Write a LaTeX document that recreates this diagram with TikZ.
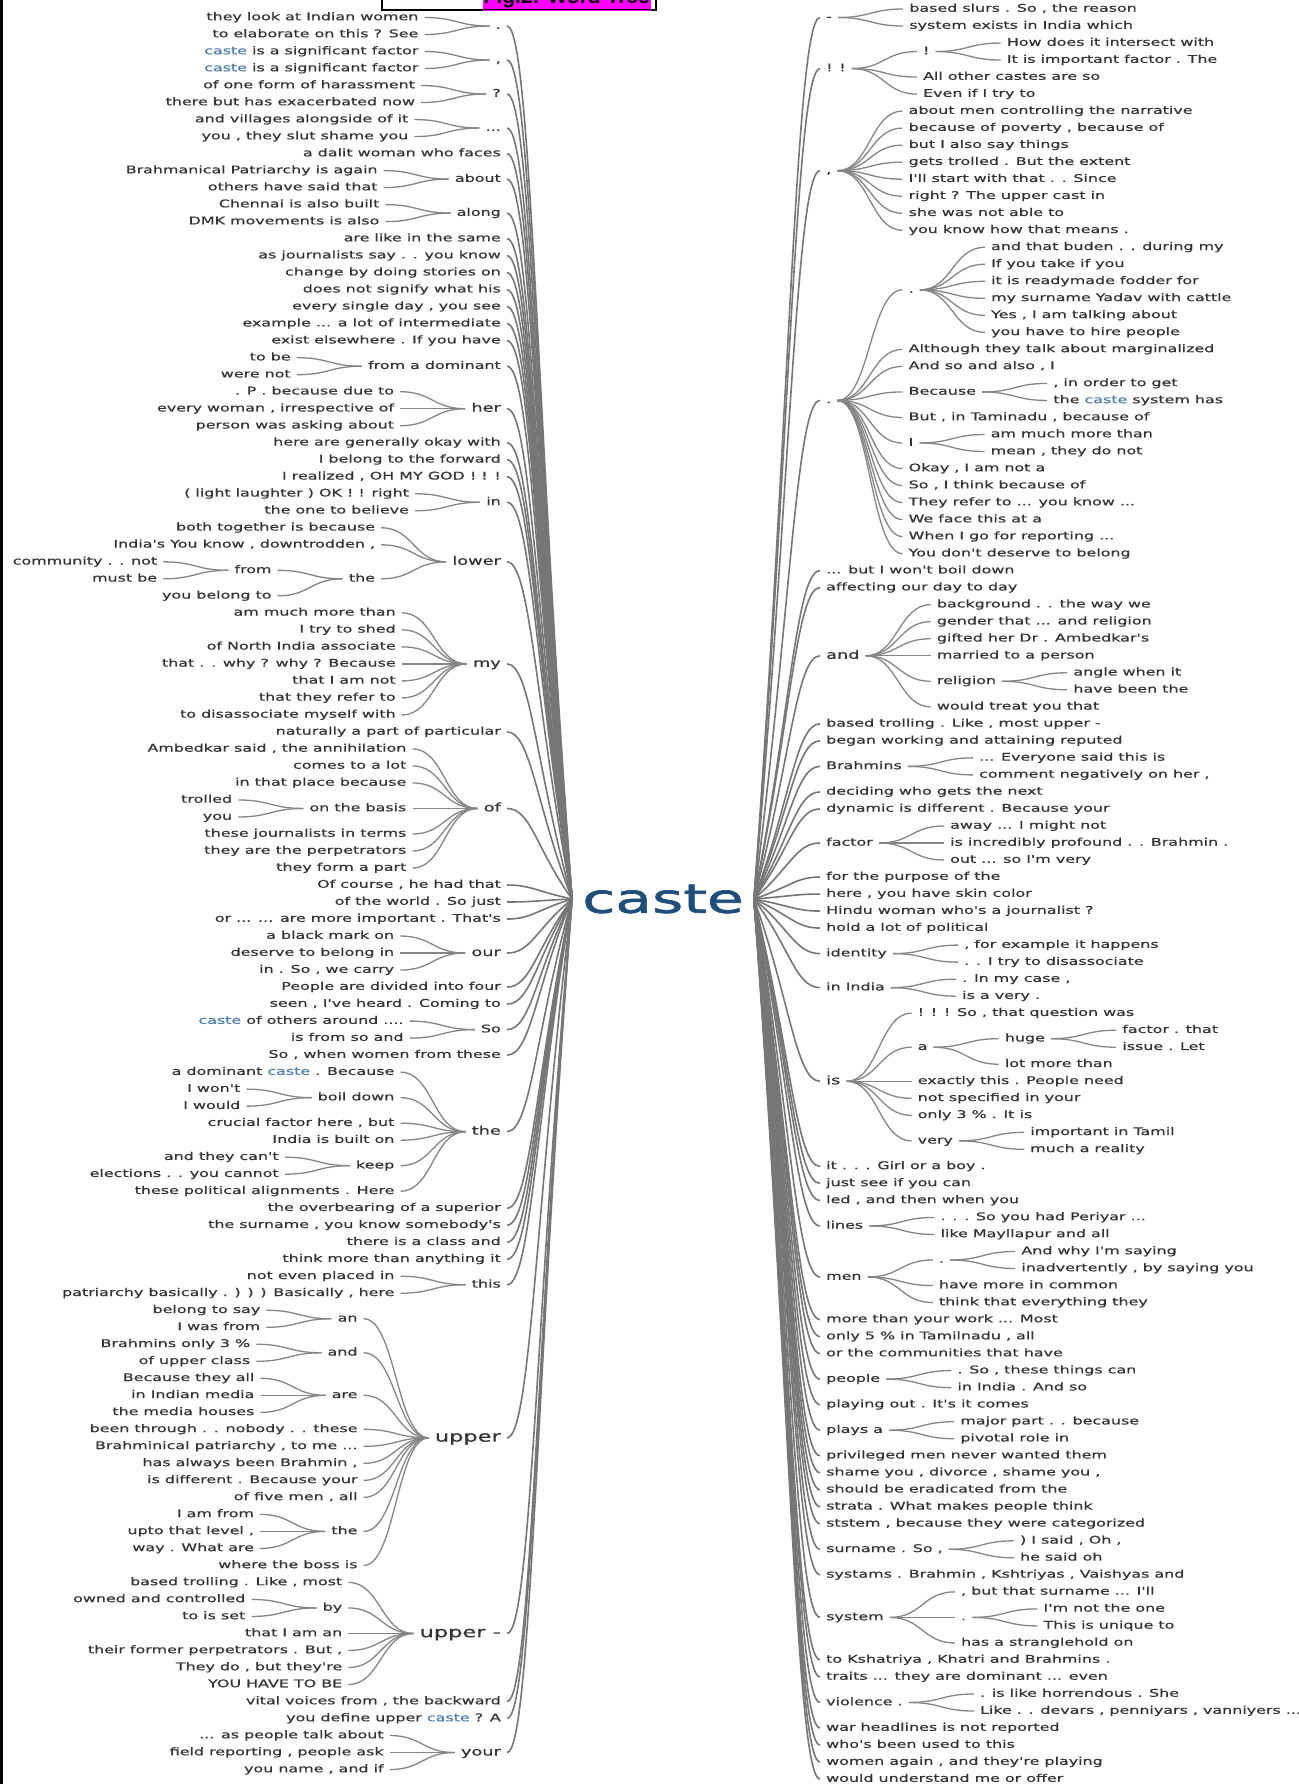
\documentclass[tikz,border=0pt]{standalone}
\usepackage{fontspec}
\newfontfamily\wt[FakeStretch=1.5,FakeBold=0.6]{DejaVu Sans}
\newfontfamily\wtc[FakeStretch=1.5,FakeBold=1.6]{DejaVu Sans}
\newfontfamily\hdf{Liberation Sans}
\usetikzlibrary{calc}
\definecolor{txt}{HTML}{333333}
\definecolor{lnk}{HTML}{858585}
\definecolor{bnd}{HTML}{767676}
\definecolor{cst}{HTML}{1F4E7A}
\definecolor{cstw}{HTML}{4E7DB0}
\definecolor{mag}{HTML}{FF00FF}
\newcommand\LY[1]{(-(17.5+(#1-1)*17.01))}
\newcommand\RY[1]{(-(9+(#1-1)*17.02))}
\newcommand\cs{\textcolor{cstw}{caste}}
% level-1 item on the left, joined to the root
\newcommand\LT[4][lf]{\node[#1,anchor=east] (#2) at (507,{\LY{#3}}) {#4};
 \draw[bun] (#2.east) .. controls +(24,0) and (536,{-899+0.55*(\LY{#3}+899)}) .. (caste.west);}
% level-1 item on the right, joined to the root
\newcommand\RT[4][lf]{\node[#1,anchor=west] (#2) at (820,{\RY{#3}}) {#4};
 \draw[bun] (#2.west) .. controls +(-24,0) and (790,{-899+0.55*(\RY{#3}+899)}) .. (caste.east);}
% deeper item on the left
\newcommand\LS[5][lf]{\coordinate (tmp) at (0,{\LY{#4}});
 \node[#1,anchor=east,xshift=-65pt] (#2) at (#3.west |- tmp) {#5};
 \draw[br] (#3.west) .. controls +(-32,0) and +(32,0) .. (#2.east);}
% deeper item on the right
\newcommand\RS[5][lf]{\coordinate (tmp) at (0,{\RY{#4}});
 \node[#1,anchor=west,xshift=65pt] (#2) at (#3.east |- tmp) {#5};
 \draw[br] (#3.east) .. controls +(32,0) and +(-32,0) .. (#2.west);}
\begin{document}
\begin{tikzpicture}[x=1pt,y=1pt,
 lf/.style={font=\wt\fontsize{10.6}{12}\selectfont, text=txt, inner xsep=6pt, inner ysep=1pt, text height=8pt, text depth=2.5pt},
 md/.style={lf, font=\wt\fontsize{11.8}{13}\selectfont, text height=8.8pt, text depth=2.8pt},
 bg/.style={lf, font=\wt\fontsize{15}{17}\selectfont, text height=11pt, text depth=3.5pt},
 br/.style={draw=lnk, line width=1.3pt},
 bun/.style={draw=bnd, line width=1.6pt}]
\useasboundingbox (0,0) rectangle (1298,-1784);
\fill[white] (0,0) rectangle (1298,-1784);
\draw[black, line width=3pt] (1.5,0) -- (1.5,-1784);
% header
\draw[black, line width=1.6pt] (382,6) rectangle (656,-10);
\node[font=\hdf\bfseries\fontsize{21}{23}\selectfont, fill=mag, inner sep=1pt, anchor=east] (hd) at (651,1) {\underline{Fig.2: Word Tree}};
% root
\node[font=\wtc\fontsize{40}{44}\selectfont, text=cst, inner xsep=10pt, inner ysep=0pt] (caste) at (663,-899) {caste};
% ---------------- left side ----------------
\LT{L1}{1.5}{.}
\LS{L1a}{L1}{1}{they look at Indian women}
\LS{L1b}{L1}{2}{to elaborate on this ? See}
\LT{L2}{3.5}{,}
\LS{L2a}{L2}{3}{\cs\ is a significant factor}
\LS{L2b}{L2}{4}{\cs\ is a significant factor\hspace{9pt}}
\LT{L3}{5.5}{?}
\LS{L3a}{L3}{5}{of one form of harassment}
\LS{L3b}{L3}{6}{there but has exacerbated now}
\LT{L4}{7.5}{...}
\LS{L4a}{L4}{7}{and villages alongside of it}
\LS{L4b}{L4}{8}{you , they slut shame you}
\LT{L5}{9}{a dalit woman who faces}
\LT{L6}{10.5}{about}
\LS{L6a}{L6}{10}{Brahmanical Patriarchy is again}
\LS{L6b}{L6}{11}{others have said that}
\LT{L7}{12.5}{along}
\LS{L7a}{L7}{12}{Chennai is also built}
\LS{L7b}{L7}{13}{DMK movements is also}
\LT{L8}{14}{are like in the same}
\LT{L9}{15}{as journalists say . . you know}
\LT{L10}{16}{change by doing stories on}
\LT{L11}{17}{does not signify what his}
\LT{L12}{18}{every single day , you see}
\LT{L13}{19}{example ... a lot of intermediate}
\LT{L14}{20}{exist elsewhere . If you have}
\LT{L15}{21.5}{from a dominant}
\LS{L15a}{L15}{21}{to be}
\LS{L15b}{L15}{22}{were not}
\LT[md]{L16}{24}{her}
\LS{L16a}{L16}{23}{. P . because due to}
\LS{L16b}{L16}{24}{every woman , irrespective of}
\LS{L16c}{L16}{25}{person was asking about}
\LT{L17}{26}{here are generally okay with}
\LT{L18}{27}{I belong to the forward}
\LT{L19}{28}{I realized , OH MY GOD ! ! !}
\LT{L20}{29.5}{in}
\LS{L20a}{L20}{29}{( light laughter ) OK ! ! right}
\LS{L20b}{L20}{30}{the one to believe}
\LT[md]{L21}{33}{lower}
\LS{L21a}{L21}{31}{both together is because}
\LS{L21b}{L21}{32}{India's You know , downtrodden ,}
\LS{L21c}{L21}{34}{the}
\LS{L21d}{L21c}{33.5}{from}
\LS{L21e}{L21d}{33}{community . . not}
\LS{L21f}{L21d}{34}{must be}
\LS{L21g}{L21c}{35}{you belong to}
\LT[md]{L22}{39}{my}
\LS{L22a}{L22}{36}{am much more than}
\LS{L22b}{L22}{37}{I try to shed}
\LS{L22c}{L22}{38}{of North India associate}
\LS{L22d}{L22}{39}{that . . why ? why ? Because}
\LS{L22e}{L22}{40}{that I am not}
\LS{L22f}{L22}{41}{that they refer to}
\LS{L22g}{L22}{42}{to disassociate myself with}
\LT{L23}{43}{naturally a part of particular}
\LT[md]{L24}{47.5}{of}
\LS{L24a}{L24}{44}{Ambedkar said , the annihilation}
\LS{L24b}{L24}{45}{comes to a lot}
\LS{L24c}{L24}{46}{in that place because}
\LS{L24d}{L24}{47.5}{on the basis}
\LS{L24e}{L24d}{47}{trolled}
\LS{L24f}{L24d}{48}{you}
\LS{L24g}{L24}{49}{these journalists in terms}
\LS{L24h}{L24}{50}{they are the perpetrators}
\LS{L24i}{L24}{51}{they form a part}
\LT{L25}{52}{Of course , he had that}
\LT{L26}{53}{of the world . So just}
\LT{L27}{54}{or ... ... are more important . That's}
\LT[md]{L28}{56}{our}
\LS{L28a}{L28}{55}{a black mark on}
\LS{L28b}{L28}{56}{deserve to belong in}
\LS{L28c}{L28}{57}{in . So , we carry}
\LT{L29}{58}{People are divided into four}
\LT{L30}{59}{seen , I've heard . Coming to}
\LT{L31}{60.5}{So}
\LS{L31a}{L31}{60}{\cs\ of others around ....}
\LS{L31b}{L31}{61}{is from so and}
\LT{L32}{62}{So , when women from these}
\LT[md]{L33}{66.5}{the}
\LS{L33a}{L33}{63}{a dominant \cs\ . Because}
\LS{L33b}{L33}{64.5}{boil down}
\LS{L33c}{L33b}{64}{I won't}
\LS{L33d}{L33b}{65}{I would}
\LS{L33e}{L33}{66}{crucial factor here , but}
\LS{L33f}{L33}{67}{India is built on}
\LS{L33g}{L33}{68.5}{keep}
\LS{L33h}{L33g}{68}{and they can't}
\LS{L33i}{L33g}{69}{elections . . you cannot}
\LS{L33j}{L33}{70}{these political alignments . Here}
\LT{L34}{71}{the overbearing of a superior}
\LT{L35}{72}{the surname , you know somebody's}
\LT{L36}{73}{there is a class and}
\LT{L37}{74}{think more than anything it}
\LT{L38}{75.5}{this}
\LS{L38a}{L38}{75}{not even placed in}
\LS{L38b}{L38}{76}{patriarchy basically . ) ) ) Basically , here}
\LT[bg]{L39}{84.5}{upper}
\LS{L39a}{L39}{77.5}{an}
\LS{L39b}{L39a}{77}{belong to say}
\LS{L39c}{L39a}{78}{I was from}
\LS{L39d}{L39}{79.5}{and}
\LS{L39e}{L39d}{79}{Brahmins only 3 \%}
\LS{L39f}{L39d}{80}{of upper class}
\LS{L39g}{L39}{82}{are}
\LS{L39h}{L39g}{81}{Because they all}
\LS{L39i}{L39g}{82}{in Indian media}
\LS{L39j}{L39g}{83}{the media houses}
\LS{L39k}{L39}{84}{been through . . nobody . . these}
\LS{L39l}{L39}{85}{Brahminical patriarchy , to me ...}
\LS{L39m}{L39}{86}{has always been Brahmin ,}
\LS{L39n}{L39}{87}{is different . Because your}
\LS{L39o}{L39}{88}{of five men , all}
\LS{L39p}{L39}{90}{the}
\LS{L39q}{L39p}{89}{I am from}
\LS{L39r}{L39p}{90}{upto that level ,}
\LS{L39s}{L39p}{91}{way . What are}
\LS{L39t}{L39}{92}{where the boss is}
\LT[bg]{L40}{96}{upper -}
\LS{L40a}{L40}{93}{based trolling . Like , most}
\LS{L40b}{L40}{94.5}{by}
\LS{L40c}{L40b}{94}{owned and controlled}
\LS{L40d}{L40b}{95}{to is set}
\LS{L40e}{L40}{96}{that I am an}
\LS{L40f}{L40}{97}{their former perpetrators . But ,}
\LS{L40g}{L40}{98}{They do , but they're}
\LS{L40h}{L40}{99}{YOU HAVE TO BE}
\LT{L41}{100}{vital voices from , the backward}
\LT{L42}{101}{you define upper \cs\ ? A}
\LT[md]{L43}{103}{your}
\LS{L43a}{L43}{102}{... as people talk about}
\LS{L43b}{L43}{103}{field reporting , people ask}
\LS{L43c}{L43}{104}{you name , and if}
% ---------------- right side ----------------
\RT{R1}{1.5}{-}
\RS{R1a}{R1}{1}{based slurs . So , the reason}
\RS{R1b}{R1}{2}{system exists in India which}
\RT{R2}{4.5}{! !}
\RS{R2a}{R2}{3.5}{!}
\RS{R2b}{R2a}{3}{How does it intersect with}
\RS{R2c}{R2a}{4}{It is important factor . The}
\RS{R2d}{R2}{5}{All other castes are so}
\RS{R2e}{R2}{6}{Even if I try to}
\RT{R3}{10.5}{,}
\RS{R3a}{R3}{7}{about men controlling the narrative}
\RS{R3b}{R3}{8}{because of poverty , because of}
\RS{R3c}{R3}{9}{but I also say things}
\RS{R3d}{R3}{10}{gets trolled . But the extent}
\RS{R3e}{R3}{11}{I'll start with that . . Since}
\RS{R3f}{R3}{12}{right ? The upper cast in}
\RS{R3g}{R3}{13}{she was not able to}
\RS{R3h}{R3}{14}{you know how that means .}
\RT{R4}{24}{.}
\RS{R4a}{R4}{17.5}{.}
\RS{R4b}{R4a}{15}{and that buden . . during my}
\RS{R4c}{R4a}{16}{If you take if you}
\RS{R4d}{R4a}{17}{it is readymade fodder for}
\RS{R4e}{R4a}{18}{my surname Yadav with cattle}
\RS{R4f}{R4a}{19}{Yes , I am talking about}
\RS{R4g}{R4a}{20}{you have to hire people}
\RS{R4h}{R4}{21}{Although they talk about marginalized}
\RS{R4i}{R4}{22}{And so and also , I}
\RS{R4j}{R4}{23.5}{Because}
\RS{R4k}{R4j}{23}{, in order to get}
\RS{R4l}{R4j}{24}{the \cs\ system has}
\RS{R4m}{R4}{25}{But , in Taminadu , because of}
\RS{R4n}{R4}{26.5}{I}
\RS{R4o}{R4n}{26}{am much more than}
\RS{R4p}{R4n}{27}{mean , they do not}
\RS{R4q}{R4}{28}{Okay , I am not a}
\RS{R4r}{R4}{29}{So , I think because of}
\RS{R4s}{R4}{30}{They refer to ... you know ...}
\RS{R4t}{R4}{31}{We face this at a}
\RS{R4u}{R4}{32}{When I go for reporting ...}
\RS{R4v}{R4}{33}{You don't deserve to belong}
\RT{R5}{34}{... but I won't boil down}
\RT{R6}{35}{affecting our day to day}
\RT[md]{R7}{39}{and}
\RS{R7a}{R7}{36}{background . . the way we}
\RS{R7b}{R7}{37}{gender that ... and religion}
\RS{R7c}{R7}{38}{gifted her Dr . Ambedkar's}
\RS{R7d}{R7}{39}{married to a person}
\RS{R7e}{R7}{40.5}{religion}
\RS{R7f}{R7e}{40}{angle when it}
\RS{R7g}{R7e}{41}{have been the}
\RS{R7h}{R7}{42}{would treat you that}
\RT{R8}{43}{based trolling . Like , most upper -}
\RT{R9}{44}{began working and attaining reputed}
\RT{R10}{45.5}{Brahmins}
\RS{R10a}{R10}{45}{... Everyone said this is}
\RS{R10b}{R10}{46}{comment negatively on her ,}
\RT{R11}{47}{deciding who gets the next}
\RT{R12}{48}{dynamic is different . Because your}
\RT{R13}{50}{factor}
\RS{R13a}{R13}{49}{away ... I might not}
\RS{R13b}{R13}{50}{is incredibly profound . . Brahmin .}
\RS{R13c}{R13}{51}{out ... so I'm very}
\RT{R14}{52}{for the purpose of the}
\RT{R15}{53}{here , you have skin color}
\RT{R16}{54}{Hindu woman who's a journalist ?}
\RT{R17}{55}{hold a lot of political}
\RT{R18}{56.5}{identity}
\RS{R18a}{R18}{56}{, for example it happens}
\RS{R18b}{R18}{57}{. . I try to disassociate}
\RT{R19}{58.5}{in India}
\RS{R19a}{R19}{58}{. In my case ,}
\RS{R19b}{R19}{59}{is a very .}
\RT[md]{R20}{64}{is}
\RS{R20a}{R20}{60}{! ! ! So , that question was}
\RS{R20b}{R20}{62}{a}
\RS{R20c}{R20b}{61.5}{huge}
\RS{R20d}{R20c}{61}{factor . that}
\RS{R20e}{R20c}{62}{issue . Let}
\RS{R20f}{R20b}{63}{lot more than}
\RS{R20g}{R20}{64}{exactly this . People need}
\RS{R20h}{R20}{65}{not specified in your}
\RS{R20i}{R20}{66}{only 3 \% . It is}
\RS{R20j}{R20}{67.5}{very}
\RS{R20k}{R20j}{67}{important in Tamil}
\RS{R20l}{R20j}{68}{much a reality}
\RT{R21}{69}{it . . . Girl or a boy .}
\RT{R22}{70}{just see if you can}
\RT{R23}{71}{led , and then when you}
\RT{R24}{72.5}{lines}
\RS{R24a}{R24}{72}{. . . So you had Periyar ...}
\RS{R24b}{R24}{73}{like Mayllapur and all}
\RT{R25}{75.5}{men}
\RS{R25a}{R25}{74.5}{.}
\RS{R25b}{R25a}{74}{And why I'm saying}
\RS{R25c}{R25a}{75}{inadvertently , by saying you}
\RS{R25d}{R25}{76}{have more in common}
\RS{R25e}{R25}{77}{think that everything they}
\RT{R26}{78}{more than your work ... Most}
\RT{R27}{79}{only 5 \% in Tamilnadu , all}
\RT{R28}{80}{or the communities that have}
\RT{R29}{81.5}{people}
\RS{R29a}{R29}{81}{. So , these things can}
\RS{R29b}{R29}{82}{in India . And so}
\RT{R30}{83}{playing out . It's it comes}
\RT{R31}{84.5}{plays a}
\RS{R31a}{R31}{84}{major part . . because}
\RS{R31b}{R31}{85}{pivotal role in}
\RT{R32}{86}{privileged men never wanted them}
\RT{R33}{87}{shame you , divorce , shame you ,}
\RT{R34}{88}{should be eradicated from the}
\RT{R35}{89}{strata . What makes people think}
\RT{R36}{90}{ststem , because they were categorized}
\RT{R37}{91.5}{surname . So ,}
\RS{R37a}{R37}{91}{) I said , Oh ,}
\RS{R37b}{R37}{92}{he said oh}
\RT{R38}{93}{systams . Brahmin , Kshtriyas , Vaishyas and}
\RT{R39}{95.5}{system}
\RS{R39a}{R39}{94}{, but that surname ... I'll}
\RS{R39b}{R39}{95.5}{.}
\RS{R39c}{R39b}{95}{I'm not the one}
\RS{R39d}{R39b}{96}{This is unique to}
\RS{R39e}{R39}{97}{has a stranglehold on}
\RT{R40}{98}{to Kshatriya , Khatri and Brahmins .}
\RT{R41}{99}{traits ... they are dominant ... even}
\RT{R42}{100.5}{violence .}
\RS{R42a}{R42}{100}{. is like horrendous . She}
\RS{R42b}{R42}{101}{Like . . devars , penniyars , vanniyers ...}
\RT{R43}{102}{war headlines is not reported}
\RT{R44}{103}{who's been used to this}
\RT{R45}{104}{women again , and they're playing}
\RT{R46}{105}{would understand me or offer}
\end{tikzpicture}
\end{document}
